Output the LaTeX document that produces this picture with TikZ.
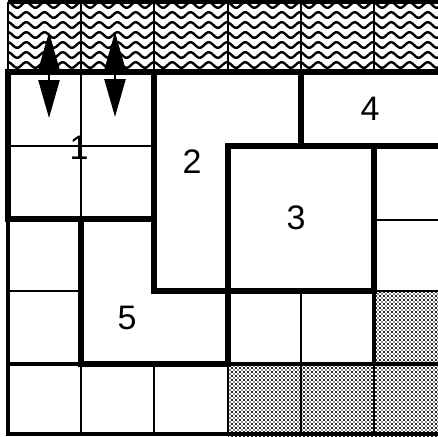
\documentclass[tikz,border=0pt]{standalone}
\usepackage{fontspec}
\setmainfont{Liberation Sans}
\usetikzlibrary{patterns,arrows.meta}
\pgfdeclarepatternformonly{bigdots}{\pgfqpoint{-1pt}{-1pt}}{\pgfqpoint{5pt}{5pt}}{\pgfqpoint{4pt}{4pt}}{%
  \pgfpathcircle{\pgfqpoint{0pt}{0pt}}{0.8pt}%
  \pgfpathcircle{\pgfqpoint{2pt}{2pt}}{0.8pt}%
  \pgfpathcircle{\pgfqpoint{4pt}{0pt}}{0.8pt}%
  \pgfpathcircle{\pgfqpoint{0pt}{4pt}}{0.8pt}%
  \pgfpathcircle{\pgfqpoint{4pt}{4pt}}{0.8pt}%
  \pgfusepath{fill}}
\begin{document}
\begin{tikzpicture}[x=1pt,y=-1pt,
  thickln/.style={line width=5.5pt},
  medln/.style={line width=3.5pt},
  thinln/.style={line width=2.6pt},
  waveln/.style={line width=2.4pt},
  lab/.style={font=\fontsize{34}{34}\selectfont, inner sep=0pt},
  dotcell/.style={pattern=bigdots, pattern color=black!90},
  dblarrow/.style={line width=2.4pt, {Triangle[length=38pt,width=21pt]}-{Triangle[length=38pt,width=21pt]}}
]
\clip (0,0) rectangle (438,436);
\fill[white] (0,0) rectangle (438,436);

% dotted cells
\fill[dotcell] (228,364) rectangle (447,436);
\fill[dotcell] (374,291) rectangle (447,364);

% wavy top row
\begin{scope}
  \clip (8,2) rectangle (447,72);
  \foreach \yy in {5,15,...,65}
    \draw[waveln] plot[domain=0:439,samples=300,smooth] ({\x+8},{\yy-2.8*cos(\x*19.726)});
\end{scope}
\draw[medln] (8,2) -- (447,2);
\foreach \xx in {8,81,154,228,301,374}
  \draw[thinln] (\xx,2) -- (\xx,72);
\draw[thickln] (8,72) -- (447,72);

% left column and bottom row thin grid
\draw[medln] (8,72) -- (8,436);
\draw[thinln] (8,291) -- (81,291);
\draw[medln] (8,364) -- (447,364);
\draw[medln] (8,434) -- (447,434);
\foreach \xx in {81,154,228,301,374}
  \draw[thinln] (\xx,364) -- (\xx,436);
\draw[thinln] (301,291) -- (301,364);
\draw[medln] (374,291) -- (374,364);
\draw[thinln] (374,291) -- (447,291);
\draw[thinln] (374,220) -- (447,220);

% region 1
\draw[thinln] (81,72) -- (81,219);
\draw[thinln] (8,146) -- (154,146);
\draw[thickln] (8,72) rectangle (154,219);

% region 2
\draw[thickln] (154,72) -- (301,72) -- (301,146) -- (228,146) -- (228,291) -- (154,291) -- cycle;
% region 3
\draw[thickln] (228,146) rectangle (374,291);
% region 4
\draw[thickln] (301,72) rectangle (447,146);
% region 5
\draw[thickln] (81,219) -- (154,219) -- (154,291) -- (228,291) -- (228,364) -- (81,364) -- cycle;

% labels
\node[lab] (n1) at (79,148) {1};
\node[lab] (n2) at (192,162) {2};
\node[lab] (n3) at (296,218) {3};
\node[lab] (n4) at (370,109) {4};
\node[lab] (n5) at (127,318) {5};

% arrows
\coordinate (a1t) at (49,32);
\coordinate (a1b) at (49,118);
\coordinate (a2t) at (115,32);
\coordinate (a2b) at (115,117);
\draw[dblarrow] (a1t) -- (a1b);
\draw[dblarrow] (a2t) -- (a2b);
\end{tikzpicture}
\end{document}
